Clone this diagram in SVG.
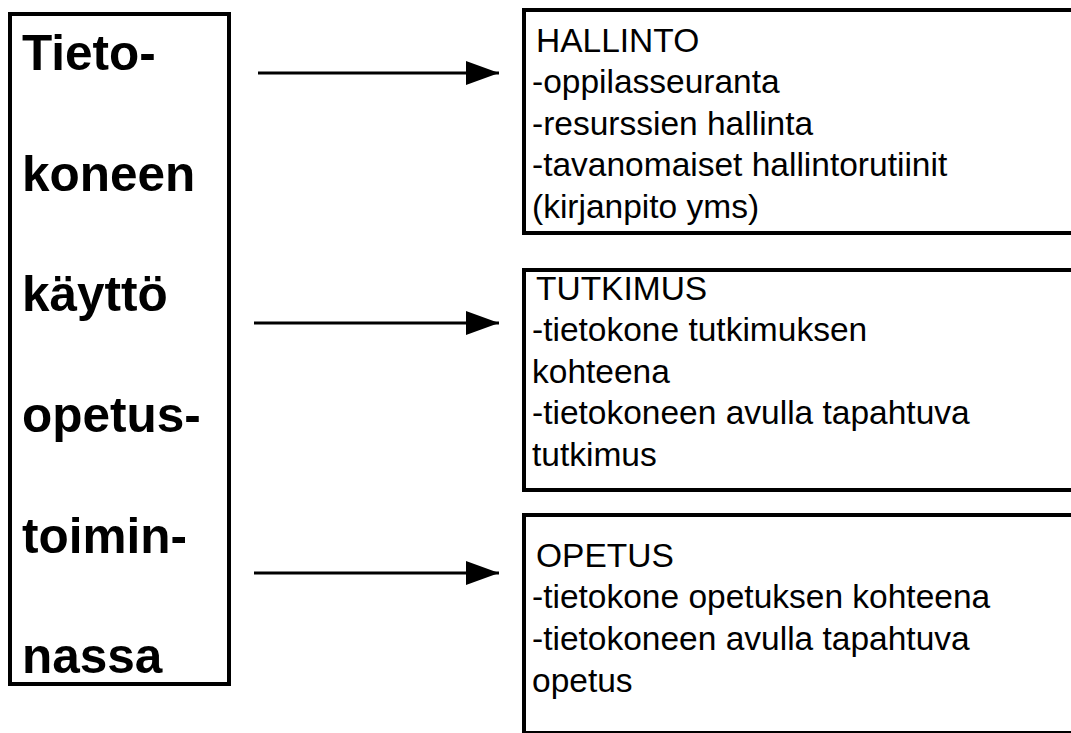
<svg xmlns="http://www.w3.org/2000/svg" width="1071" height="733" viewBox="0 0 1071 733">
<style>
.box{fill:none;stroke:#000;stroke-width:4}
.big{font-family:"Liberation Sans",Arial,Helvetica,sans-serif;font-weight:bold;font-size:49.5px;fill:#000}
.txt{font-family:"Liberation Sans",Arial,Helvetica,sans-serif;font-size:33.5px;fill:#000}
.line{stroke:#000;stroke-width:3}
</style>
<defs>
<marker id="arr" viewBox="0 0 33 24" refX="33" refY="12" markerWidth="33" markerHeight="24" markerUnits="userSpaceOnUse" orient="auto">
<path d="M0,0 L33,12 L0,24 Z" fill="#000"/>
</marker>
</defs>
<rect width="1071" height="733" fill="#fff"/>
<g id="main">
<rect class="box" x="10" y="14" width="219" height="670"/>
<text class="big" x="22" y="70">Tieto-</text>
<text class="big" x="22" y="191">koneen</text>
<text class="big" x="22" y="311">käyttö</text>
<text class="big" x="22" y="432">opetus-</text>
<text class="big" x="22" y="553">toimin-</text>
<text class="big" x="22" y="673">nassa</text>
</g>
<g id="hallinto">
<rect class="box" x="524" y="10" width="560" height="223"/>
<text class="txt" x="536" y="52">HALLINTO</text>
<text class="txt" x="532" y="93">-oppilasseuranta</text>
<text class="txt" x="532" y="135">-resurssien hallinta</text>
<text class="txt" x="532" y="176">-tavanomaiset hallintorutiinit</text>
<text class="txt" x="532" y="218">(kirjanpito yms)</text>
</g>
<g id="tutkimus">
<rect class="box" x="524" y="270" width="560" height="220"/>
<text class="txt" x="536" y="300">TUTKIMUS</text>
<text class="txt" x="532" y="341">-tietokone tutkimuksen</text>
<text class="txt" x="532" y="383">kohteena</text>
<text class="txt" x="532" y="424">-tietokoneen avulla tapahtuva</text>
<text class="txt" x="532" y="466">tutkimus</text>
</g>
<g id="opetus">
<rect class="box" x="524" y="515" width="560" height="218"/>
<text class="txt" x="536" y="567">OPETUS</text>
<text class="txt" x="532" y="608">-tietokone opetuksen kohteena</text>
<text class="txt" x="532" y="650">-tietokoneen avulla tapahtuva</text>
<text class="txt" x="532" y="692">opetus</text>
</g>
<g id="connectors">
<line class="line" x1="258" y1="73" x2="499" y2="73" marker-end="url(#arr)"/>
<line class="line" x1="254" y1="323" x2="499" y2="323" marker-end="url(#arr)"/>
<line class="line" x1="254" y1="573" x2="499" y2="573" marker-end="url(#arr)"/>
</g>
</svg>
